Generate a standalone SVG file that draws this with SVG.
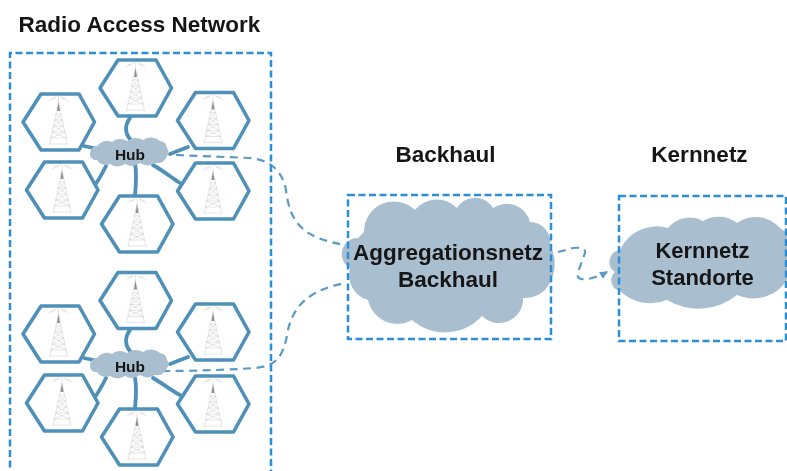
<svg xmlns="http://www.w3.org/2000/svg" xmlns:xlink="http://www.w3.org/1999/xlink" width="787" height="471" viewBox="0 0 787 471">
<style>
text{font-family:"Liberation Sans",Arial,sans-serif;font-weight:bold;fill:#151515;text-anchor:middle}
.title{font-size:22.500px}
.big{font-size:22.500px}
.big2{font-size:22px}
.hubt{font-size:15.500px}
.box{fill:none;stroke:#2a8fd6;stroke-width:2.500;stroke-dasharray:7 3.500}
.hex{fill:#fff;stroke:#4f90b8;stroke-width:3.600;stroke-linejoin:round}
.cloud{fill:#a9bfcf}
.link{fill:none;stroke:#4f90b8;stroke-width:3.800;stroke-linecap:round}
.dash{fill:none;stroke:#5a9ac4;stroke-width:2.200;stroke-dasharray:8 5.500}
.tw{fill:none;stroke:#c0c0c0;stroke-width:.400}
</style>
<defs>
<filter id="soft" x="-2%" y="-2%" width="104%" height="104%"><feGaussianBlur stdDeviation="0.500"/></filter>
<marker id="arr" markerWidth="10" markerHeight="10" refX="7" refY="4" orient="auto" markerUnits="userSpaceOnUse"><path d="M0,0L8,4L0,8z" fill="#5a9ac4"/></marker>
<g id="cell">
<polygon class="hex" points="-35.500,0 -17.500,-28 20.500,-28 36,0 20.500,28 -17.500,28"/>
<g class="tw">
<path d="M0,-20L-9,23M0,-20L9,23M-2,-14L2,-14M-3,-8L3,-8M-4,-2L4,-2M-5,4L5,4M-6.500,10L6.500,10M-8,16L8,16M-9,22L9,22M-3,-8L3,-2M3,-8L-3,-2M-4,-2L5,4M4,-2L-5,4M-5,4L6.500,10M5,4L-6.500,10M-6.500,10L8,16M6.500,10L-8,16"/>
<path d="M0,-20V-27M-8,-23L-2,-25M8,-23L2,-25M-10,-21L-3,-24M10,-21L3,-24"/>
<path d="M0,-20L-1.500,-11H1.500Z" fill="#909090" stroke="none"/>
</g>
</g>
<path id="hubcloud" class="cloud" d="M90,153A7,7 0 0 1 97,146A12,12 0 0 1 112,142A13,13 0 0 1 127,141A14,14 0 0 1 143,140A14,14 0 0 1 160,141A8,8 0 0 1 167,148A6,6 0 0 1 167,156A10,10 0 0 1 155,163A14,14 0 0 1 140,163A14,14 0 0 1 125,164A14,14 0 0 1 110,164A10,10 0 0 1 97,160A6,6 0 0 1 90,153Z"/>
</defs>
<g filter="url(#soft)">
<g id="labels">
<text class="title" x="139.500" y="31.500">Radio Access Network</text>
<text class="title" x="445.500" y="161.500">Backhaul</text>
<text class="title" x="699.500" y="161.500">Kernnetz</text>
</g>
<g id="connectors">
<path class="link" d="M130,118C124,126 125,135 132,141"/>
<path class="link" d="M84,146L98,149"/>
<path class="link" d="M188,147L170,154"/>
<path class="link" d="M95,185C100,178 103,172 106,166"/>
<path class="link" d="M135,163C137,175 136,185 135,196"/>
<path class="link" d="M153,165C165,172 172,178 180,183"/>
<path class="link" d="M130,330C124,338 125,347 132,353"/>
<path class="link" d="M84,358L98,361"/>
<path class="link" d="M188,357L170,364"/>
<path class="link" d="M95,397C100,390 103,384 106,378"/>
<path class="link" d="M135,378C137,388 136,398 135,408"/>
<path class="link" d="M153,378C165,385 172,391 180,395"/>
<path class="dash" d="M176,155C200,156 225,157 250,158C270,160 282,170 286,190C290,225 305,238 345,245"/>
<path class="dash" d="M162,371C195,371 225,370 255,368C275,366 283,358 287,335C292,305 310,290 345,283"/>
<path class="dash" d="M558,252L573,248C581,247 586,249 585,253L578,272C576,278 580,280 588,279Q598,277 607,272" marker-end="url(#arr)"/>
</g>
<g id="ran-box"><path class="box" d="M10,478V53H271V478"/></g>
<g id="backhaul-cloud"><path class="cloud" d="M350,268A16,16 0 0 1 358,238L364,232A30,30 0 0 1 415,210A28,28 0 0 1 457,208A21,21 0 0 1 493,208A24,24 0 0 1 530,222A20,20 0 0 1 550,245A40,40 0 0 1 545,290A30,30 0 0 1 523,298A24,24 0 0 1 482,316A50,50 0 0 1 412,320A30,30 0 0 1 368,300A26,26 0 0 1 350,268Z"/></g>
<g id="kernnetz-cloud"><path class="cloud" d="M620,291A11,11 0 0 1 615,272A12,12 0 0 1 620,250A40,40 0 0 1 668,228A28,28 0 0 1 703,221A30,30 0 0 1 737,223A32,32 0 0 1 780,228L787,233V280A40,40 0 0 1 737,295A61,61 0 0 1 667,300A44,44 0 0 1 620,291Z"/></g>
<g id="backhaul-box"><rect class="box" x="348" y="195" width="203" height="144"/></g>
<g id="kernnetz-box"><rect class="box" x="619" y="196" width="167" height="145"/></g>
<g id="cloud-labels">
<text class="big" x="448" y="260">Aggregationsnetz</text>
<text class="big" x="448" y="287">Backhaul</text>
<text class="big2" x="702.500" y="258">Kernnetz</text>
<text class="big2" x="702.500" y="285">Standorte</text>
</g>
<g id="cell-1a"><use href="#cell" x="135.500" y="88"/></g>
<g id="cell-1b"><use href="#cell" x="58.500" y="122"/></g>
<g id="cell-1c"><use href="#cell" x="213" y="120.500"/></g>
<g id="cell-1d"><use href="#cell" x="62" y="190"/></g>
<g id="cell-1e"><use href="#cell" x="213" y="191"/></g>
<g id="cell-1f"><use href="#cell" x="137" y="224"/></g>
<g id="cell-2a"><use href="#cell" x="135.500" y="300.500"/></g>
<g id="cell-2b"><use href="#cell" x="58.500" y="334"/></g>
<g id="cell-2c"><use href="#cell" x="213" y="332"/></g>
<g id="cell-2d"><use href="#cell" x="62" y="403"/></g>
<g id="cell-2e"><use href="#cell" x="213" y="404"/></g>
<g id="cell-2f"><use href="#cell" x="137" y="437"/></g>
<g id="hub-1"><use href="#hubcloud"/><text class="hubt" x="130" y="160">Hub</text></g>
<g id="hub-2"><use href="#hubcloud" y="212"/><text class="hubt" x="130" y="372">Hub</text></g>
</g>
</svg>
